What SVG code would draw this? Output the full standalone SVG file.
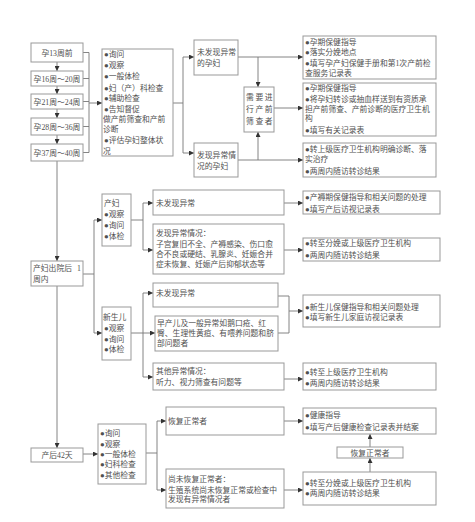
<svg xmlns="http://www.w3.org/2000/svg" width="475" height="522" viewBox="0 0 475 522">
<defs>
<marker id="ah" viewBox="0 0 6 6" refX="6" refY="3" markerWidth="5" markerHeight="5" orient="auto" markerUnits="userSpaceOnUse">
<path d="M0,0 L6,3 L0,6 z" fill="#333"/>
</marker>
<style>
rect{fill:#fff;stroke:#999;stroke-width:1}
text{font-family:"Liberation Serif","Noto Sans CJK SC",serif;font-size:7.8px;fill:#505050}
.c{text-anchor:middle}
#connectors path,#connectors line{fill:none;stroke:#777;stroke-width:0.9}
.a{marker-end:url(#ah)}
</style>
</defs>
<rect x="0" y="0" width="475" height="522" style="fill:#fff;stroke:none"/>

<g id="connectors">
<line class="a" x1="57" y1="62" x2="57" y2="71"/>
<line class="a" x1="57" y1="86" x2="57" y2="94"/>
<line class="a" x1="57" y1="109" x2="57" y2="118"/>
<line class="a" x1="57" y1="135" x2="57" y2="144"/>
<path d="M83,52.5H89M83,78.5H89M83,101.5H89M83,126.5H89M83,152.5H89M89,52.5V152.5"/>
<line class="a" x1="89" y1="103" x2="102" y2="103"/>
<path d="M173,103H183M183,57V153"/>
<line class="a" x1="183" y1="57" x2="194" y2="57"/>
<line class="a" x1="183" y1="153" x2="194" y2="153"/>
<line class="a" x1="238" y1="57" x2="303" y2="57"/>
<line class="a" x1="258" y1="57" x2="258" y2="87"/>
<line class="a" x1="238" y1="160" x2="303" y2="160"/>
<line class="a" x1="258" y1="160" x2="258" y2="132"/>
<line class="a" x1="274" y1="108" x2="303" y2="108"/>

<line class="a" x1="57" y1="161" x2="57" y2="261"/>
<path d="M83,274H94M94,220V333"/>
<line class="a" x1="94" y1="220" x2="102" y2="220"/>
<line class="a" x1="94" y1="333" x2="102" y2="333"/>
<path d="M131,220H143M143,203V250"/>
<line class="a" x1="143" y1="203" x2="153" y2="203"/>
<line class="a" x1="143" y1="250" x2="153" y2="250"/>
<line class="a" x1="284" y1="203" x2="303" y2="203"/>
<line class="a" x1="284" y1="250" x2="303" y2="250"/>
<path d="M131,333H143M143,293V377"/>
<line class="a" x1="143" y1="293" x2="153" y2="293"/>
<line class="a" x1="143" y1="333" x2="155" y2="333"/>
<line class="a" x1="143" y1="377" x2="153" y2="377"/>
<path d="M278,296H289M278,333H289M289,296V333"/>
<line class="a" x1="289" y1="311" x2="303" y2="311"/>
<line class="a" x1="284" y1="379" x2="303" y2="379"/>

<line class="a" x1="57" y1="286" x2="57" y2="448"/>
<line class="a" x1="83" y1="454" x2="98" y2="454"/>
<path d="M146,453H157M157,421V490"/>
<line class="a" x1="157" y1="421" x2="166" y2="421"/>
<line class="a" x1="157" y1="490" x2="166" y2="490"/>
<line class="a" x1="284" y1="421" x2="303" y2="421"/>
<line class="a" x1="284" y1="490" x2="303" y2="490"/>
<line class="a" x1="370" y1="472" x2="370" y2="458"/>
<line class="a" x1="370" y1="447" x2="370" y2="434"/>
</g>

<g id="w13"><rect x="31" y="43" width="52" height="19"/><text class="c" x="57" y="55.5">孕13周前</text></g>
<g id="w16"><rect x="31" y="71" width="52" height="15"/><text class="c" x="57" y="81.5">孕16周～20周</text></g>
<g id="w21"><rect x="31" y="94" width="52" height="15"/><text class="c" x="57" y="104.5">孕21周～24周</text></g>
<g id="w28"><rect x="31" y="118" width="52" height="17"/><text class="c" x="57" y="129.5">孕28周～36周</text></g>
<g id="w37"><rect x="31" y="144" width="52" height="17"/><text class="c" x="57" y="155.5">孕37周～40周</text></g>

<g id="prenatal-list"><rect x="102" y="49" width="71" height="107"/>
<text x="104" y="57">●询问</text>
<text x="104" y="68">●观察</text>
<text x="104" y="79">●一般体检</text>
<text x="104" y="91">●妇（产）科检查</text>
<text x="104" y="101">●辅助检查</text>
<text x="104" y="112">●告知督促</text>
<text x="103" y="122">做产前筛查和产前</text>
<text x="103" y="132">诊断</text>
<text x="104" y="143">●评估孕妇整体状</text>
<text x="103" y="154">况</text>
</g>

<g id="normal-preg"><rect x="194" y="40" width="44" height="35"/>
<text x="197" y="55">未发现异常</text><text x="197" y="66">的孕妇</text></g>
<g id="abnormal-preg"><rect x="194" y="143" width="44" height="34"/>
<text x="197" y="158">发现异常情</text><text x="197" y="169">况的孕妇</text></g>
<g id="screening"><rect x="244" y="87" width="30" height="45"/>
<text x="246" y="100" style="letter-spacing:1.6px">需要进</text>
<text x="246" y="112" style="letter-spacing:1.6px">行产前</text>
<text x="246" y="124" style="letter-spacing:1.6px">筛查者</text></g>

<g id="r1"><rect x="303" y="36" width="133" height="43"/>
<text x="305" y="45">●孕期保健指导</text>
<text x="305" y="55">●落实分娩地点</text>
<text x="305" y="66">●填写孕产妇保健手册和第1次产前检</text>
<text x="305" y="76">查服务记录表</text></g>
<g id="r2"><rect x="303" y="83" width="133" height="53"/>
<text x="305" y="91">●孕期保健指导</text>
<text x="305" y="102">●将孕妇转诊或抽血样送到有资质承</text>
<text x="305" y="112">担产前筛查、产前诊断的医疗卫生机</text>
<text x="305" y="121">构</text>
<text x="305" y="133">●填写有关记录表</text></g>
<g id="r3"><rect x="303" y="143" width="133" height="34"/>
<text x="305" y="152">●转上级医疗卫生机构明确诊断、落</text>
<text x="305" y="162">实治疗</text>
<text x="305" y="174">●两周内随访转诊结果</text></g>

<g id="week1"><rect x="31" y="261" width="52" height="25"/>
<text x="33" y="271">产妇出院后</text><text x="77" y="271">1</text>
<text x="33" y="282">周内</text></g>

<g id="mother"><rect x="102" y="194" width="29" height="52"/>
<text x="104" y="206">产妇</text>
<text x="104" y="217">●观察</text>
<text x="104" y="228">●询问</text>
<text x="104" y="239">●体检</text></g>
<g id="m-normal"><rect x="153" y="190" width="131" height="25"/>
<text x="156" y="206">未发现异常</text></g>
<g id="m-abnormal"><rect x="153" y="224" width="131" height="50"/>
<text x="156" y="236">发现异常情况：</text>
<text x="156" y="247">子宫复旧不全、产褥感染、伤口愈</text>
<text x="156" y="257">合不良或硬结、乳腺炎、妊娠合并</text>
<text x="156" y="267">症未恢复、妊娠产后抑郁状态等</text></g>
<g id="m-r1"><rect x="303" y="191" width="137" height="23"/>
<text x="305" y="200">●产褥期保健指导和相关问题的处理</text>
<text x="305" y="212">●填写产后访视记录表</text></g>
<g id="m-r2"><rect x="303" y="238" width="137" height="23"/>
<text x="305" y="246">●转至分娩或上级医疗卫生机构</text>
<text x="305" y="258">●两周内随访转诊结果</text></g>

<g id="newborn"><rect x="102" y="307" width="29" height="53"/>
<text x="103" y="320">新生儿</text>
<text x="104" y="331">●观察</text>
<text x="104" y="342">●询问</text>
<text x="104" y="352">●体检</text></g>
<g id="n-normal"><rect x="153" y="283" width="125" height="24"/>
<text x="156" y="296">未发现异常</text></g>
<g id="n-premature"><rect x="155" y="316" width="123" height="35"/>
<text x="157" y="326">早产儿及一般异常如鹅口疮、红</text>
<text x="157" y="336">臀、生理性黄疸、有喂养问题和脐</text>
<text x="157" y="346">部问题者</text></g>
<g id="n-other"><rect x="153" y="363" width="131" height="27"/>
<text x="156" y="374">其他异常情况：</text>
<text x="156" y="385">听力、视力筛查有问题等</text></g>
<g id="n-r1"><rect x="303" y="295" width="137" height="32"/>
<text x="305" y="310">●新生儿保健指导和相关问题处理</text>
<text x="305" y="320">●填写新生儿家庭访视记录表</text></g>
<g id="n-r2"><rect x="303" y="363" width="133" height="27"/>
<text x="305" y="375">●转至上级医疗卫生机构</text>
<text x="305" y="386">●两周内随访转诊结果</text></g>

<g id="d42"><rect x="31" y="448" width="52" height="14"/>
<text class="c" x="57" y="457.5">产后42天</text></g>
<g id="d42-list"><rect x="98" y="424" width="48" height="60"/>
<text x="100" y="436">●询问</text>
<text x="100" y="447">●观察</text>
<text x="100" y="457">●一般体检</text>
<text x="100" y="467">●妇科检查</text>
<text x="100" y="478">●其他检查</text></g>
<g id="recovered"><rect x="166" y="407" width="118" height="28"/>
<text x="168" y="424">恢复正常者</text></g>
<g id="not-recovered"><rect x="166" y="469" width="118" height="39"/>
<text x="168" y="482">尚未恢复正常者：</text>
<text x="168" y="493">生殖系统尚未恢复正常或检查中</text>
<text x="168" y="502">发现有异常情况者</text></g>
<g id="d-r1"><rect x="303" y="408" width="133" height="26"/>
<text x="305" y="418">●健康指导</text>
<text x="305" y="430">●填写产后健康检查记录表并结案</text></g>
<g id="d-mid"><rect x="337" y="447" width="66" height="11"/>
<text class="c" x="370" y="455.5">恢复正常者</text></g>
<g id="d-r2"><rect x="303" y="472" width="133" height="33"/>
<text x="305" y="486">●转至分娩或上级医疗卫生机构</text>
<text x="305" y="496">●两周内随访转诊结果</text></g>
</svg>
